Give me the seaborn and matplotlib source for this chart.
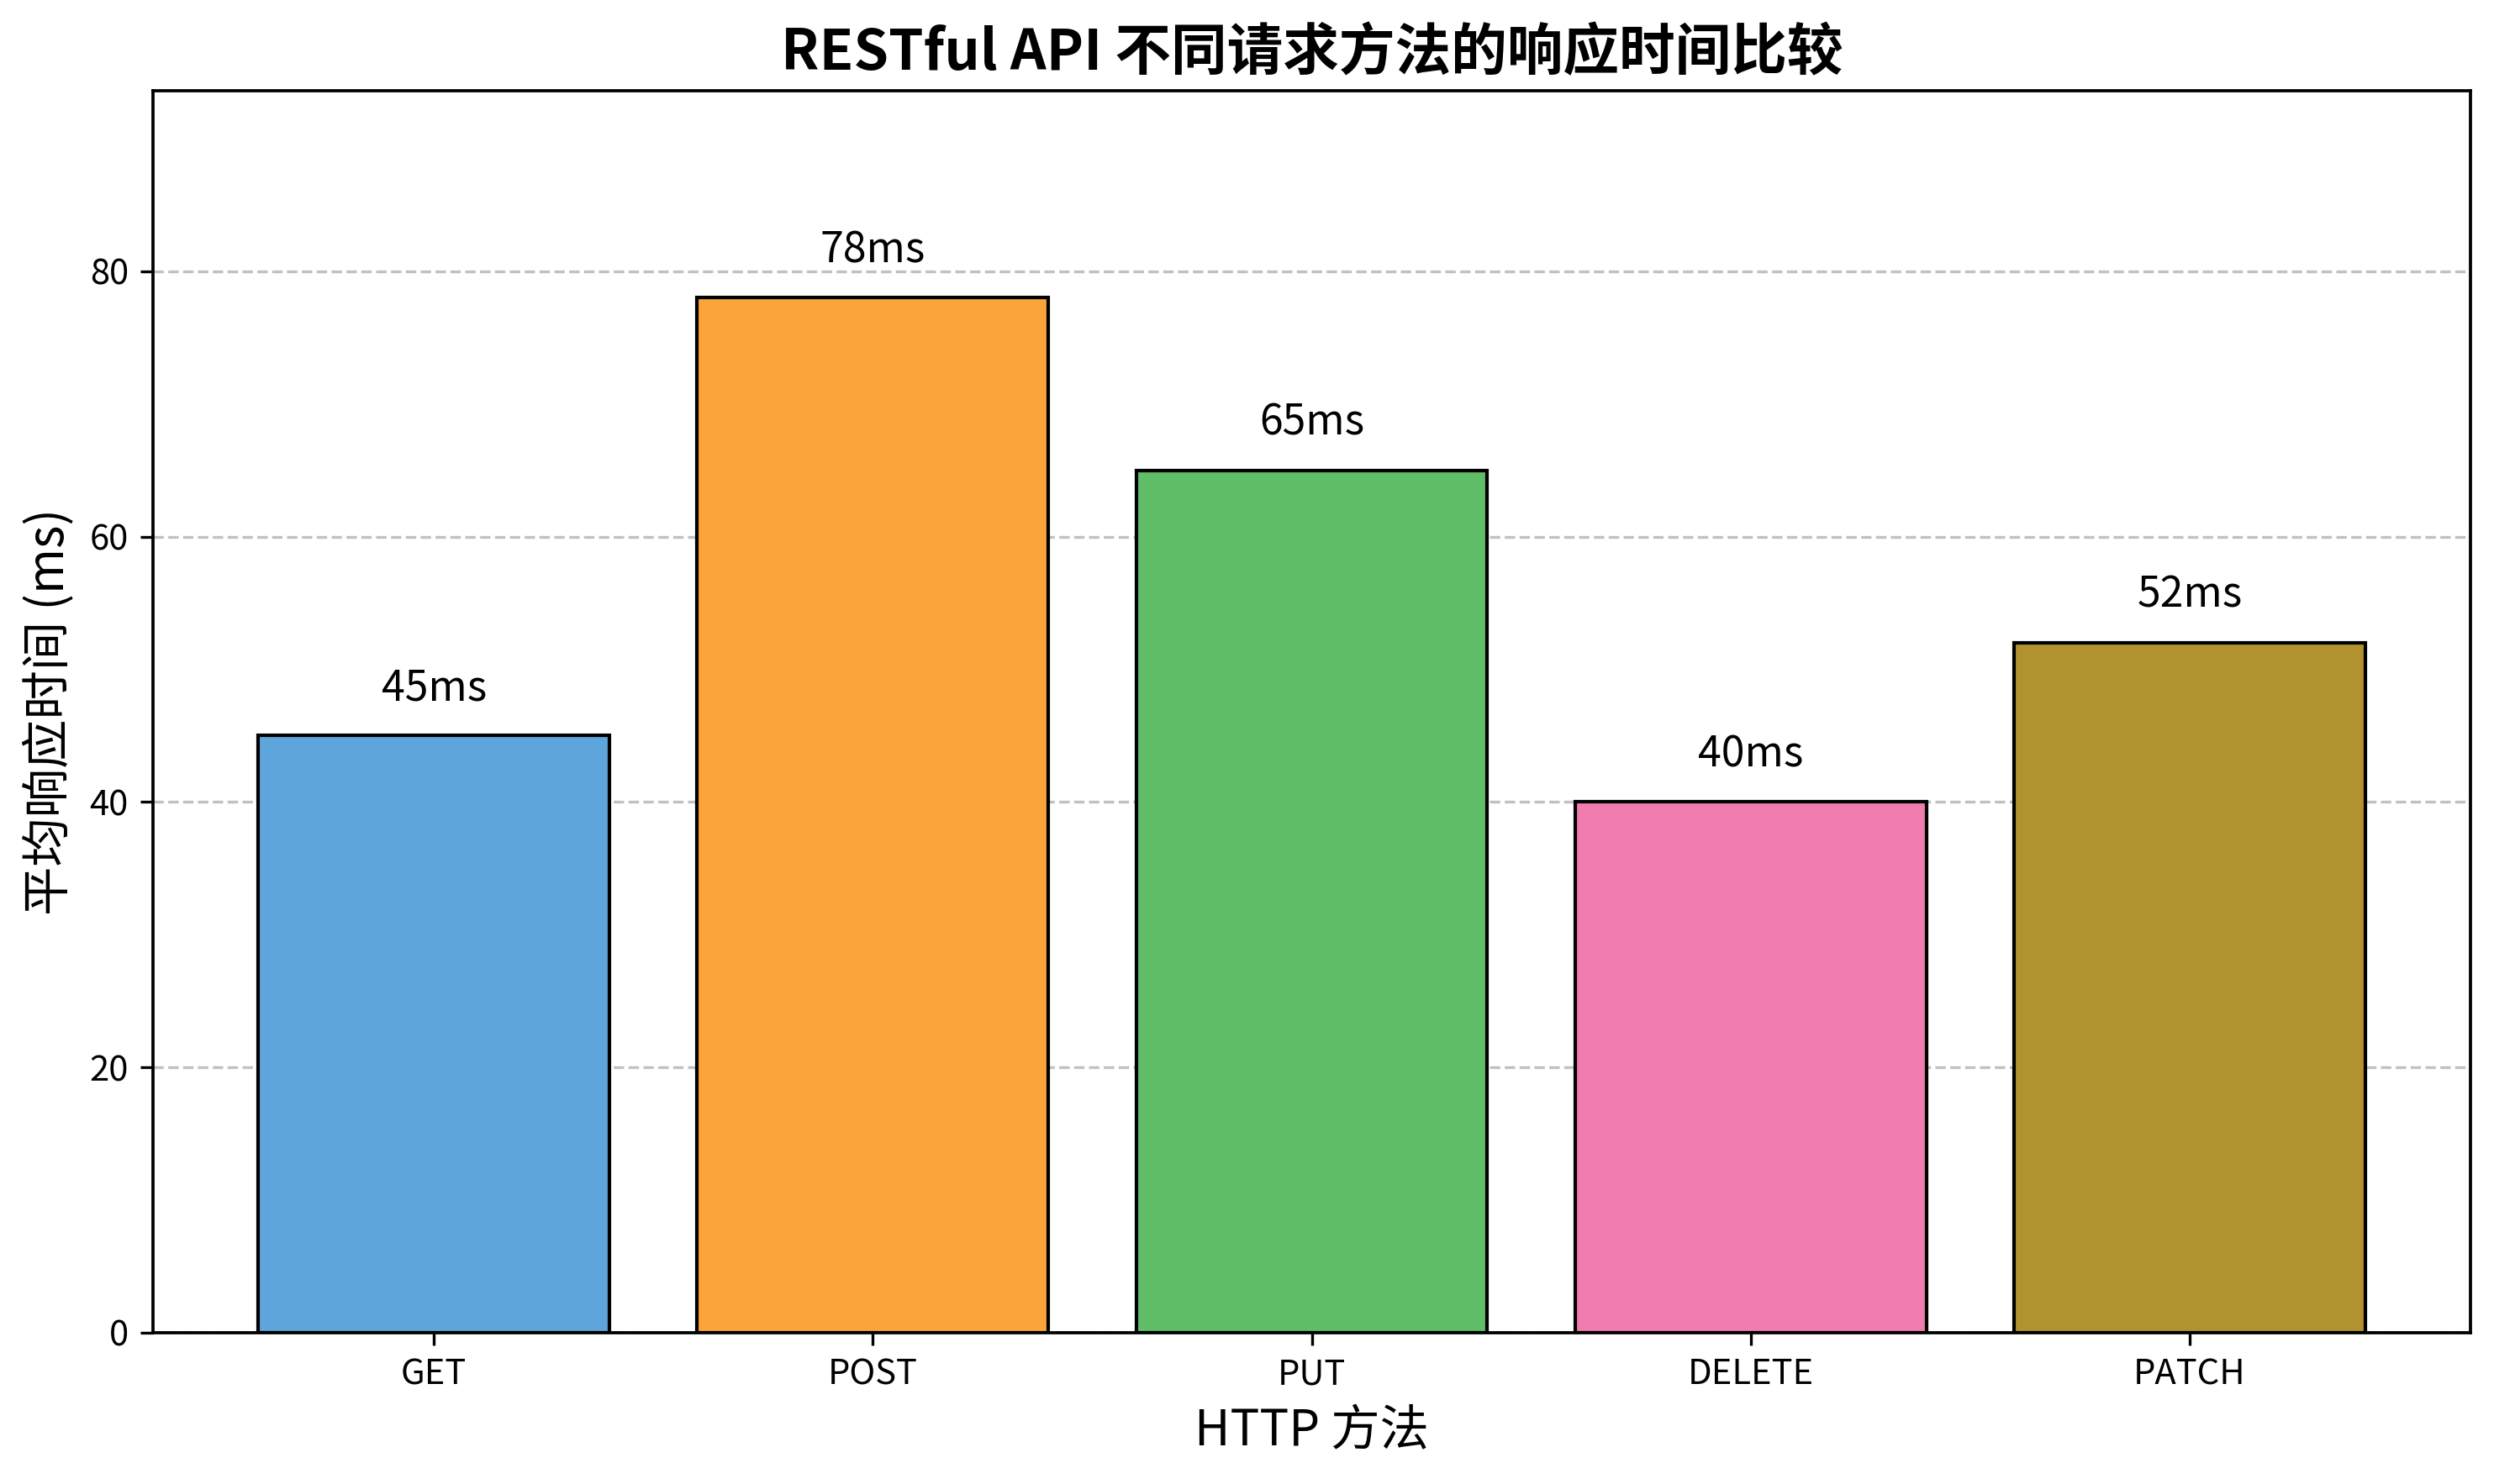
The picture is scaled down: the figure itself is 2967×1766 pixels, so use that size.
import matplotlib
matplotlib.use("Agg")
import matplotlib.pyplot as plt
import seaborn as sns
import pandas as pd

methods = ["GET", "POST", "PUT", "DELETE", "PATCH"]
times = [45, 78, 65, 40, 52]
colors = ["#5DA5DA", "#FAA43A", "#60BD68", "#F17CB0", "#B2912F"]
labels = [f"{v}ms" for v in times]
title = "RESTful API 不同请求方法的响应时间比较"
xlabel = "HTTP 方法"
ylabel = "平均响应时间 (ms)"

sns.set_style("ticks", {"axes.edgecolor": "black", "text.color": "black",
                        "axes.labelcolor": "black", "xtick.color": "black",
                        "ytick.color": "black"})
plt.rcParams['font.family'] = ['Noto Sans CJK SC', 'DejaVu Sans']
plt.rcParams['axes.unicode_minus'] = False

df = pd.DataFrame({"method": methods, "time": times})

fig = plt.figure(figsize=(2967/300, 1766/300), dpi=300)
ax = fig.add_axes([182/2967, 1-1586/1766, (2939-182)/2967, (1586-108)/1766])

sns.barplot(data=df, x="method", y="time", hue="method", palette=colors,
            legend=False, width=0.8, edgecolor="black", linewidth=1.0,
            saturation=1, ax=ax, zorder=2)

for i, (v, lab) in enumerate(zip(times, labels)):
    ax.text(i, v + 1.9, lab, ha="center", va="bottom", fontsize=12, color="black")

ax.set_xlim(-0.64, len(methods) - 1 + 0.64)
ax.set_ylim(0, max(times) * 1.2)
ax.set_yticks([0, 20, 40, 60, 80])
ax.yaxis.grid(True, linestyle="--", color="#BBBBBB", alpha=0.9, linewidth=0.8, zorder=0)
ax.set_axisbelow(True)
for s in ax.spines.values():
    s.set_visible(True)
    s.set_linewidth(0.9)
    s.set_color("black")
ax.tick_params(labelsize=10, colors="black")
ax.set_title(title, fontsize=16, fontweight="bold", pad=6, color="black")
ax.set_xlabel(xlabel, fontsize=14, color="black")
ax.set_ylabel(ylabel, fontsize=14, color="black")

fig.savefig("out.png", dpi=300)
